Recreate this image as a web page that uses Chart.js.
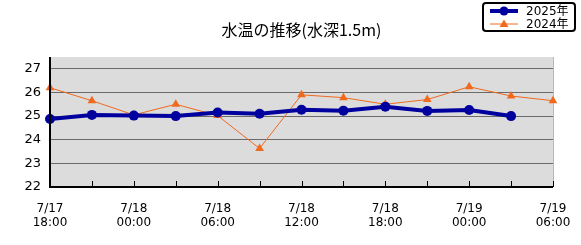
<!DOCTYPE html>
<html>
<head>
<meta charset="utf-8">
<script src="https://cdn.jsdelivr.net/npm/chart.js@4"></script>
<style>
  html, body { margin: 0; padding: 0; background: #fff; }
  #wrap { width: 581px; height: 245px; position: relative; }
</style>
</head>
<body>
<div id="wrap"><canvas id="chart"></canvas></div>
<script>
// Times every 3 hours (7/17 18:00 .. 7/19 06:00)
const timeLabels = [
  ['7/17', '18:00'], ['7/17', '21:00'], ['7/18', '00:00'], ['7/18', '03:00'],
  ['7/18', '06:00'], ['7/18', '09:00'], ['7/18', '12:00'], ['7/18', '15:00'],
  ['7/18', '18:00'], ['7/18', '21:00'], ['7/19', '00:00'], ['7/19', '03:00'],
  ['7/19', '06:00']
];
const temps2025 = [24.88, 25.05, 25.02, 25.0, 25.15, 25.1, 25.27, 25.23, 25.4, 25.22, 25.26, 25.0, null];
const temps2024 = [26.2, 25.65, 25.05, 25.5, 25.02, 23.63, 25.9, 25.78, 25.5, 25.7, 26.24, 25.85, 25.65];
const seriesNames = ['2025年', '2024年'];
const yTicks = [22, 23, 24, 25, 26, 27];
const titleText = '水温の推移(水深1.5m)';

const BLUE = '#00009e';
const ORANGE = '#f06a1e';
const FONT = '"DejaVu Sans", sans-serif';

// Grey plot background + inward tick marks + title + legend
const decor = {
  id: 'decor',
  beforeDraw(chart) {
    const { ctx, chartArea: a } = chart;
    ctx.save();
    ctx.fillStyle = '#dcdcdc';
    ctx.fillRect(a.left, a.top, a.right - a.left, a.bottom - a.top);
    ctx.strokeStyle = '#b8b8b8';
    ctx.lineWidth = 1;
    ctx.beginPath();
    ctx.moveTo(a.right + 0.5, a.top);
    ctx.lineTo(a.right + 0.5, a.bottom);
    ctx.stroke();
    ctx.restore();
  },
  afterDatasetsDraw(chart) {
    const { ctx, chartArea: a, scales } = chart;
    ctx.save();
    // axes
    ctx.strokeStyle = '#000';
    ctx.lineWidth = 2;
    ctx.beginPath();
    ctx.moveTo(a.left, a.top);
    ctx.lineTo(a.left, a.bottom);
    ctx.lineTo(a.right, a.bottom);
    ctx.stroke();
    // inward x ticks
    ctx.lineWidth = 1;
    scales.x.ticks.forEach((t, i) => {
      const x = Math.round(scales.x.getPixelForTick(i)) + 0.5;
      ctx.beginPath();
      ctx.moveTo(x, a.bottom);
      ctx.lineTo(x, a.bottom - 6);
      ctx.stroke();
    });
    ctx.restore();
  },
  afterDraw(chart) {
    const { ctx, chartArea: a } = chart;
    ctx.save();
    // title centred over the plot area
    ctx.fillStyle = '#000';
    ctx.font = '16px "Noto Sans CJK JP", sans-serif';
    ctx.textAlign = 'center';
    ctx.textBaseline = 'middle';
    ctx.fillText(titleText, (a.left + a.right) / 2, 30);

    // legend box
    const bx = 483, by = 3, bw = 92, bh = 28;
    ctx.fillStyle = '#fff';
    ctx.strokeStyle = '#000';
    ctx.lineWidth = 2;
    ctx.beginPath();
    ctx.roundRect(bx, by, bw, bh, 3);
    ctx.fill();
    ctx.stroke();

    const rows = [
      { y: 11, color: BLUE, width: 4, style: 'circle' },
      { y: 24, color: ORANGE, width: 1, style: 'triangle' }
    ];
    rows.forEach((r, i) => {
      ctx.strokeStyle = r.color;
      ctx.fillStyle = r.color;
      ctx.lineWidth = r.width;
      ctx.beginPath();
      ctx.moveTo(490, r.y);
      ctx.lineTo(518, r.y);
      ctx.stroke();
      ctx.beginPath();
      if (r.style === 'circle') {
        ctx.arc(504, r.y, 4.5, 0, Math.PI * 2);
      } else {
        ctx.moveTo(504, r.y - 4.5);
        ctx.lineTo(508.5, r.y + 3);
        ctx.lineTo(499.5, r.y + 3);
        ctx.closePath();
      }
      ctx.fill();
      ctx.fillStyle = '#000';
      ctx.font = '12px "DejaVu Sans", "Noto Sans CJK JP", sans-serif';
      ctx.textAlign = 'left';
      ctx.textBaseline = 'middle';
      ctx.fillText(seriesNames[i], 526, r.y + 1);
    });
    ctx.restore();
  }
};

new Chart(document.getElementById('chart'), {
  type: 'line',
  data: {
    labels: timeLabels,
    datasets: [
      {
        label: seriesNames[1],
        data: temps2024,
        borderColor: ORANGE,
        backgroundColor: ORANGE,
        borderWidth: 1,
        pointStyle: 'triangle',
        pointRadius: 5,
        pointBorderWidth: 0,
        tension: 0,
        order: 2
      },
      {
        label: seriesNames[0],
        data: temps2025,
        borderColor: BLUE,
        backgroundColor: BLUE,
        borderWidth: 4,
        pointStyle: 'circle',
        pointRadius: 5,
        pointBorderWidth: 0,
        tension: 0,
        order: 1
      }
    ]
  },
  plugins: [decor],
  options: {
    responsive: true,
    maintainAspectRatio: false,
    animation: false,
    layout: { padding: { left: 0, right: 28, top: 57, bottom: 0 } },
    plugins: {
      legend: { display: false },
      title: { display: false },
      tooltip: { enabled: false }
    },
    scales: {
      x: {
        type: 'category',
        offset: false,
        border: { display: false },
        grid: { display: false, drawTicks: false },
        ticks: {
          autoSkip: false,
          maxRotation: 0,
          padding: 15,
          color: '#000',
          font: { family: FONT, size: 12, lineHeight: 1.17 },
          callback: (v, i) => (i % 2 === 0 ? timeLabels[i] : '')
        },
        afterFit: s => { s.height = 58; s.paddingLeft = 0; s.paddingRight = 0; }
      },
      y: {
        min: 22,
        max: 27.5,
        border: { display: false },
        grid: { color: '#6a6a6a', lineWidth: 1, drawTicks: false },
        afterBuildTicks: s => { s.ticks = yTicks.map(v => ({ value: v })); },
        ticks: {
          padding: 9,
          color: '#000',
          font: { family: FONT, size: 13 }
        },
        afterFit: s => { s.width = 50; }
      }
    }
  }
});
</script>
</body>
</html>
